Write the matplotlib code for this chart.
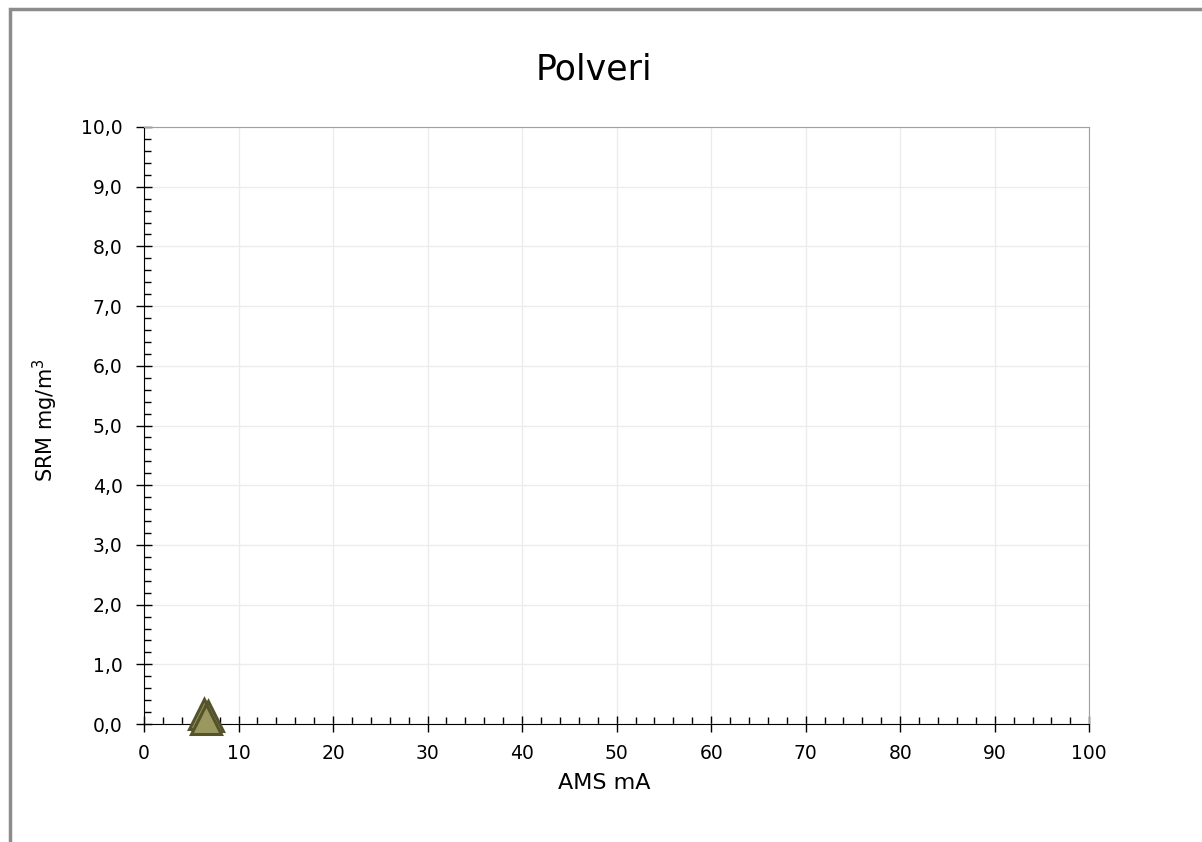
import matplotlib.pyplot as plt
from matplotlib.patches import Rectangle
from matplotlib.ticker import MultipleLocator, FuncFormatter

# misure AMS (mA) contro SRM (mg/m3)
ams_ma = [6.3, 6.8, 6.6]
srm_mg = [0.17, 0.13, 0.09]

plt.rcParams['font.family'] = ['DejaVu Sans']

fig = plt.figure(figsize=(12.02, 8.42), dpi=100)
ax = fig.add_axes([0.1198, 0.1401, 0.7864, 0.7091])

# cornice esterna del grafico
fig.patches.append(Rectangle((10 / 1202, -0.1), 1.2, 1 - 9 / 842 + 0.1,
                             transform=fig.transFigure, fill=False,
                             edgecolor='#8c8c8c', linewidth=2.5))

ax.plot(ams_ma, srm_mg, linestyle='none', marker='^', markersize=21,
        markerfacecolor='#9a975f', markeredgecolor='#55532c',
        markeredgewidth=2.2, clip_on=False, zorder=5)

ax.set_xlim(0, 100)
ax.set_ylim(0, 10)
ax.xaxis.set_major_locator(MultipleLocator(10))
ax.xaxis.set_minor_locator(MultipleLocator(2))
ax.yaxis.set_major_locator(MultipleLocator(1))
ax.yaxis.set_minor_locator(MultipleLocator(0.2))
ax.yaxis.set_major_formatter(FuncFormatter(lambda v, p: f"{v:.1f}".replace('.', ',')))

ax.grid(True, which='major', color='#ececec', linewidth=1)
ax.set_axisbelow(True)

for s in ['top', 'right']:
    ax.spines[s].set_color('#a0a0a0')
for s in ['left', 'bottom']:
    ax.spines[s].set_color('black')

ax.tick_params(which='major', direction='inout', length=11, width=1, labelsize=13.5)
ax.tick_params(axis='y', which='major', pad=10)
ax.tick_params(axis='x', which='major', pad=9)
ax.tick_params(which='minor', direction='in', length=5, width=1)

fig.text(0.494, 1 - 70 / 842, 'Polveri', fontsize=25, ha='center', va='center')
fig.text(0.503, 1 - 783 / 842, 'AMS mA', fontsize=16, ha='center', va='center')
fig.text(45 / 1202, 1 - 420 / 842, 'SRM mg/m$^3$', fontsize=15,
         ha='center', va='center', rotation=90)

fig.savefig('out.png', dpi=100)
